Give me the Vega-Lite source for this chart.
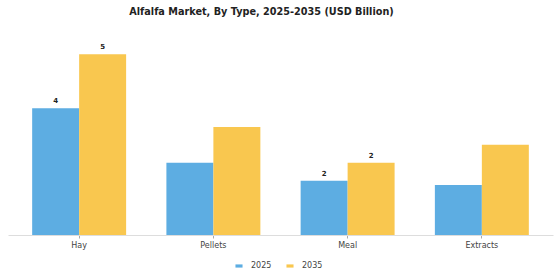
{
  "$schema": "https://vega.github.io/schema/vega-lite/v6.json",
  "width": 545,
  "height": 205,
  "autosize": {"type": "none"},
  "padding": {"left": 8, "top": 30, "right": 7, "bottom": 45},
  "title": {
    "text": "Alfalfa Market, By Type, 2025-2035 (USD Billion)",
    "font": "DejaVu Sans",
    "fontSize": 9.7,
    "fontWeight": "bold",
    "color": "#222222",
    "anchor": "middle",
    "dx": -19,
    "offset": 13
  },
  "config": {
    "view": {"stroke": null},
    "font": "DejaVu Sans"
  },
  "data": {
    "values": [
      {"type": "Hay", "year": "2025", "value": 3.65, "label": "4"},
      {"type": "Hay", "year": "2035", "value": 5.2, "label": "5"},
      {"type": "Pellets", "year": "2025", "value": 2.08, "label": ""},
      {"type": "Pellets", "year": "2035", "value": 3.11, "label": ""},
      {"type": "Meal", "year": "2025", "value": 1.56, "label": "2"},
      {"type": "Meal", "year": "2035", "value": 2.08, "label": "2"},
      {"type": "Extracts", "year": "2025", "value": 1.44, "label": ""},
      {"type": "Extracts", "year": "2035", "value": 2.6, "label": ""}
    ]
  },
  "encoding": {
    "x": {
      "field": "type",
      "type": "nominal",
      "sort": ["Hay", "Pellets", "Meal", "Extracts"],
      "scale": {"paddingInner": 0.3, "paddingOuter": 0.18},
      "axis": {
        "title": null,
        "labelAngle": 0,
        "labelFontSize": 8,
        "labelColor": "#444444",
        "labelPadding": 3,
        "tickSize": 3,
        "tickColor": "#aaaaaa",
        "domainColor": "#dddddd",
        "domainWidth": 1
      }
    },
    "xOffset": {"field": "year", "type": "nominal", "sort": ["2025", "2035"]},
    "y": {
      "field": "value",
      "type": "quantitative",
      "scale": {"domain": [0, 5.9], "nice": false},
      "axis": null
    }
  },
  "layer": [
    {
      "mark": {"type": "bar"},
      "encoding": {
        "color": {
          "field": "year",
          "type": "nominal",
          "scale": {"domain": ["2025", "2035"], "range": ["#5DADE2", "#F9C74F"]},
          "legend": {
            "title": null,
            "orient": "none",
            "legendX": 227,
            "legendY": 232,
            "direction": "horizontal",
            "symbolType": "M-1,-0.45L1,-0.45L1,0.45L-1,0.45Z",
            "symbolSize": 50,
            "symbolStrokeWidth": 0,
            "labelFontSize": 8,
            "labelColor": "#444444",
            "columnPadding": 14,
            "labelOffset": 8
          }
        }
      }
    },
    {
      "mark": {"type": "text", "dy": -7, "fontSize": 7, "fontWeight": "bold", "color": "#222222"},
      "encoding": {"text": {"field": "label"}}
    }
  ]
}
